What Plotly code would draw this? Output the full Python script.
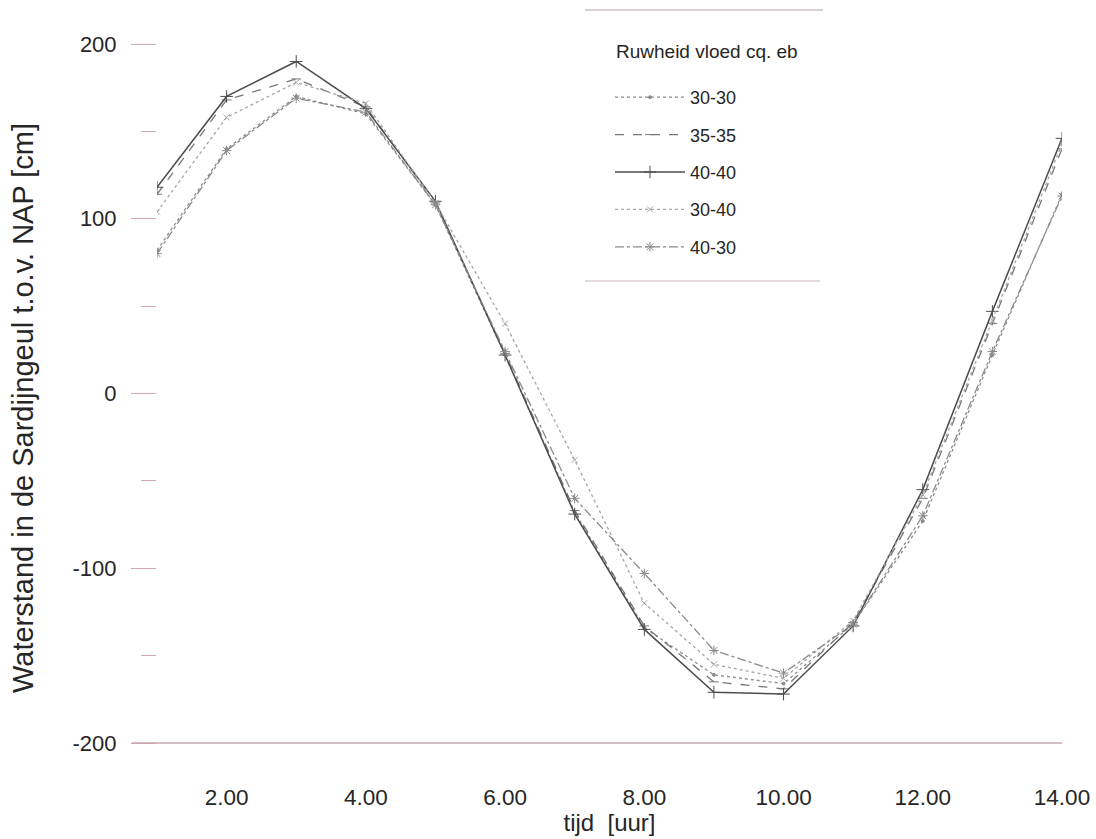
import plotly.graph_objects as go

# ---- data ----
tijd = [1, 2, 3, 4, 5, 6, 7, 8, 9, 10, 11, 12, 13, 14]
x_tick_vals = [2, 4, 6, 8, 10, 12, 14]
x_tick_text = ["2.00", "4.00", "6.00", "8.00", "10.00", "12.00", "14.00"]
y_tick_vals = [-200, -100, 0, 100, 200]
y_tick_text = ["-200", "-100", "0", "100", "200"]

r30_30 = [82, 140, 170, 160, 108, 22, -68, -134, -161, -166, -132, -73, 22, 114]
r35_35 = [114, 168, 180, 164, 109, 23, -67, -133, -165, -169, -131, -60, 40, 140]
r40_40 = [118, 170, 190, 163, 110, 22, -69, -135, -171, -172, -133, -55, 47, 146]
r30_40 = [104, 158, 178, 166, 109, 40, -38, -120, -155, -163, -130, -58, 42, 143]
r40_30 = [80, 139, 169, 161, 108, 24, -60, -103, -147, -160, -132, -70, 24, 113]

series_names = ["30-30", "35-35", "40-40", "30-40", "40-30"]
series_vals = [r30_30, r35_35, r40_40, r30_40, r40_30]
legend_title = "Ruwheid vloed cq. eb"
y_title = "Waterstand in de Sardijngeul t.o.v. NAP [cm]"

styles = [
    dict(color="#8c8c8c", dash="dot", width=1.3, symbol="circle", size=3),
    dict(color="#777777", dash="dash", width=1.3, symbol="line-ew-open", size=7),
    dict(color="#4d4d4d", dash="solid", width=1.5, symbol="cross-thin-open", size=9),
    dict(color="#a5a5a5", dash="dot", width=1.3, symbol="x-thin-open", size=6),
    dict(color="#8a8a8a", dash="dashdot", width=1.3, symbol="asterisk-open", size=8),
]

FONT = "Liberation Sans, Arial, sans-serif"
TXT = "#262626"
TICKC = "#d2a9ae"

fig = go.Figure()
for i, (nm, vals, st) in enumerate(zip(series_names, series_vals, styles)):
    fig.add_trace(go.Scatter(
        x=tijd, y=vals, name=nm, mode="lines+markers",
        legendgroup=f"g{i}",
        line=dict(color=st["color"], dash=st["dash"], width=st["width"]),
        marker=dict(symbol=st["symbol"], size=st["size"], color=st["color"],
                    line=dict(color=st["color"], width=1)),
    ))

W, H = 1096, 839
ML, MR, MT, MB = 157, 34, 44, 96
PW = W - ML - MR
PH = H - MT - MB

def px_x(p):
    return (p - ML) / PW

def px_y(p):
    return (H - MB - p) / PH

fig.update_layout(
    width=W, height=H,
    margin=dict(l=ML, r=MR, t=MT, b=MB, autoexpand=False),
    paper_bgcolor="white", plot_bgcolor="white",
    font=dict(family=FONT, color=TXT, size=22),
    showlegend=True,
    legend=dict(
        x=px_x(610), y=px_y(79), xanchor="left", yanchor="top",
        bgcolor="rgba(0,0,0,0)", borderwidth=0,
        font=dict(family=FONT, size=18, color=TXT),
        tracegroupgap=11, itemwidth=70,
    ),
    xaxis=dict(
        range=[1, 14], tickvals=x_tick_vals, ticktext=x_tick_text,
        showgrid=False, zeroline=False, showline=False, ticks="",
        ticklabelstandoff=38, automargin=False,
        tickfont=dict(family=FONT, size=22.5, color=TXT),
        title=dict(text="tijd\u00a0\u00a0[uur]", font=dict(family=FONT, size=24, color=TXT), standoff=2),
    ),
    yaxis=dict(
        range=[-200, 200], tickvals=y_tick_vals, ticktext=y_tick_text,
        showgrid=False, zeroline=False, showline=False,
        ticks="outside", ticklen=25, tickwidth=1.2, tickcolor=TICKC,
        minor=dict(dtick=50, tick0=0, ticks="outside", ticklen=15, tickwidth=1.2, tickcolor=TICKC),
        ticklabelstandoff=10, automargin=False,
        tickfont=dict(family=FONT, size=22, color=TXT),
    ),
    annotations=[
        dict(text=legend_title, xref="paper", yref="paper", x=px_x(614), y=px_y(52),
             xanchor="left", yanchor="middle", showarrow=False,
             font=dict(family=FONT, size=19, color=TXT)),
        dict(text=y_title, xref="paper", yref="paper", x=px_x(23), y=px_y(408),
             xanchor="center", yanchor="middle", textangle=-90, showarrow=False,
             font=dict(family=FONT, size=29, color=TXT)),
    ],
    shapes=[
        # baseline at -200 extending under the y ticks
        dict(type="line", xref="paper", yref="paper", x0=-25 / PW, x1=1, y0=0, y1=0,
             line=dict(color="#c7a6ab", width=1.5)),
        # legend frame top / bottom rules
        dict(type="line", xref="paper", yref="paper", x0=px_x(585), x1=px_x(823),
             y0=px_y(10), y1=px_y(10), line=dict(color="#b9a3a6", width=1.2)),
        dict(type="line", xref="paper", yref="paper", x0=px_x(585), x1=px_x(820),
             y0=px_y(281), y1=px_y(281), line=dict(color="#c9b5b8", width=1.2)),
    ],
)

fig.write_html("out.html")
